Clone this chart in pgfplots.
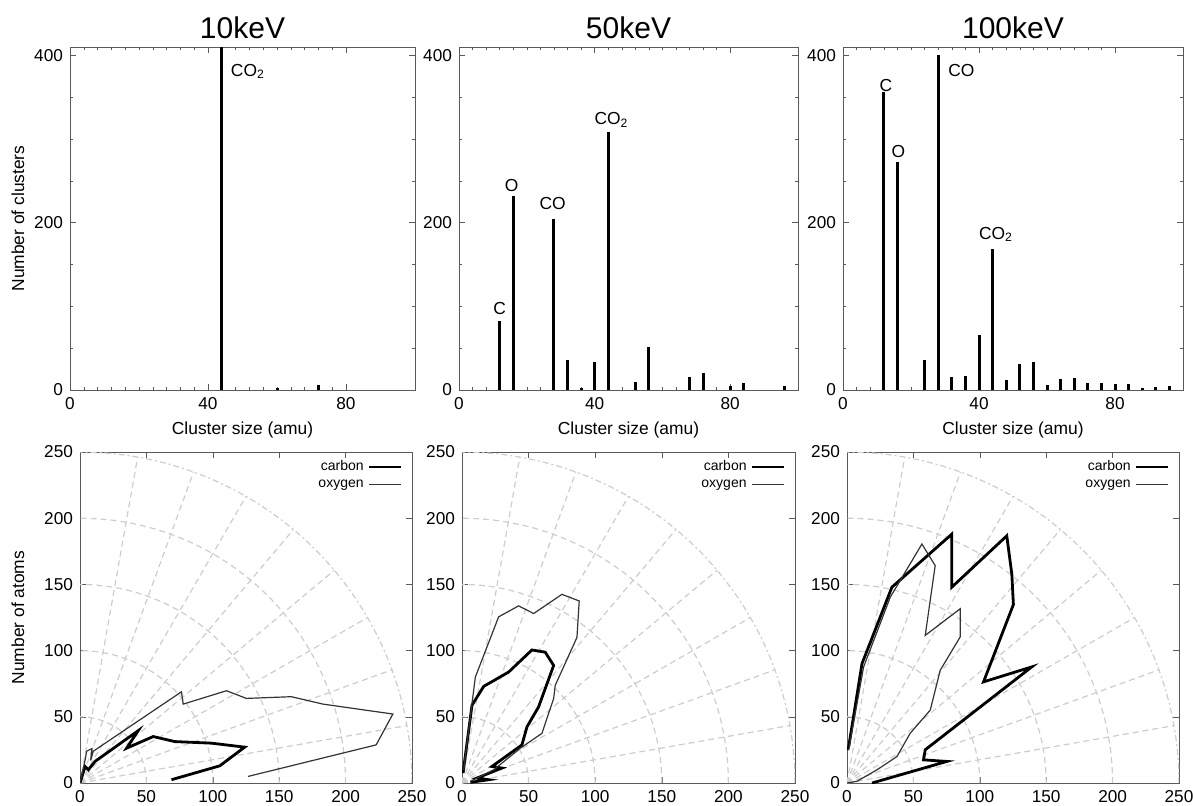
\documentclass[border=0pt]{standalone}
\usepackage{fontspec}
\setmainfont{Liberation Sans}
\usepackage{pgfplots}
\pgfplotsset{compat=1.18}

\definecolor{gridc}{RGB}{205,205,205}
\definecolor{boxc}{RGB}{90,90,90}

\tikzset{lbl/.style={font=\fontsize{8.7}{10}\selectfont}}

\pgfplotsset{
  base/.style={
    scale only axis,
    axis line style={boxc},
    tick style={boxc},
    tick align=inside,
    major tick length=3pt,
    minor tick length=1.5pt,
    tick label style={font=\fontsize{8.6}{10}\selectfont},
    /pgf/number format/assume math mode=true,
    label style={font=\fontsize{8.7}{10}\selectfont},
  },
  clusters/.style={
    base,
    height=171.5pt,
    xmin=0, xmax=100, ymin=0, ymax=410,
    xtick={0,40,80}, ytick={0,200,400},
    minor x tick num=9, minor y tick num=3,
    title style={font=\fontsize{15}{17}\selectfont, at={(0.5,1)}, anchor=center, yshift=3.5pt},
    xlabel={Cluster size (amu)},
    xlabel style={at={(0.5,0)}, anchor=center, yshift=-20pt},
  },
  bar/.style={ycomb, no marks, black, line width=1.5pt},
  polar/.style={
    base,
    height=165.5pt,
    xmin=0, xmax=250, ymin=0, ymax=250,
    xtick={0,50,...,250}, ytick={0,50,...,250},
    legend style={draw=none, fill=none, at={(0.99,1.0)}, anchor=north east,
      font=\fontsize{7}{8}\selectfont, row sep=-1pt},
    legend plot pos=right,
    legend cell align=right,
    legend image code/.code={\draw[##1] (0cm,0cm) -- (0.56cm,0cm);},
  },
  carbon/.style={black, line width=1.4pt, no marks},
  oxygen/.style={black!80, line width=0.6pt, no marks},
}

% polar grid drawn inside each lower axis
\newcommand{\polargrid}{%
  \pgfplotsinvokeforeach{50,100,150,200}{%
    \draw[gridc, line width=0.6pt, dash pattern=on 3pt off 2pt]
      plot[domain=0:90, samples=40] ({##1*cos(\x)},{##1*sin(\x)});
  }
  \draw[gridc, line width=0.6pt, dash pattern=on 3pt off 1.5pt on 1pt off 1.5pt]
    plot[domain=0:90, samples=60] ({250*cos(\x)},{250*sin(\x)});
  \pgfplotsinvokeforeach{10,20,30,40,50,60,70,80}{%
    \draw[gridc, line width=0.6pt, dash pattern=on 3pt off 2pt]
      (axis cs:0,0) -- (axis cs:{250*cos(##1)},{250*sin(##1)});
  }
}

\begin{document}
\begin{tikzpicture}
\path[use as bounding box] (0,0) rectangle (596.5pt,-402.5pt);

% ---------- top row: cluster size spectra ----------
\begin{axis}[clusters, at={(35pt,-195pt)}, anchor=south west, width=172.5pt,
  title={10keV}, ylabel={Number of clusters},
  ylabel style={at={(axis description cs:-0.151,0.5)}, anchor=center}]
  \addplot[bar] coordinates {(44,1000) (60,2) (72,6)};
  \node[lbl, anchor=west] at (axis cs:44.6,381) {CO\textsubscript{2}};
\end{axis}

\begin{axis}[clusters, at={(229.5pt,-195pt)}, anchor=south west, width=169.5pt,
  title={50keV}]
  \addplot[bar] coordinates {
    (12,83) (16,232) (28,205) (32,36) (36,3) (40,34) (44,309)
    (52,10) (56,51) (68,15) (72,20) (80,5) (84,8) (96,5)};
  \node[lbl] at (axis cs:12,97) {C};
  \node[lbl] at (axis cs:15.5,244) {O};
  \node[lbl] at (axis cs:27.6,223) {CO};
  \node[lbl] at (axis cs:45,323) {CO\textsubscript{2}};
\end{axis}

\begin{axis}[clusters, at={(421.5pt,-195pt)}, anchor=south west, width=170pt,
  title={100keV}]
  \addplot[bar] coordinates {
    (12,356) (16,272) (24,36) (28,400) (32,15) (36,17) (40,66) (44,169)
    (48,12) (52,31) (56,33) (60,6) (64,13) (68,14) (72,8) (76,8)
    (80,7) (84,7) (88,3) (92,4) (96,5)};
  \node[lbl] at (axis cs:12.6,364) {C};
  \node[lbl] at (axis cs:16.3,285) {O};
  \node[lbl, anchor=west] at (axis cs:28.9,382) {CO};
  \node[lbl] at (axis cs:45,186) {CO\textsubscript{2}};
\end{axis}

% ---------- bottom row: angular distributions ----------
\begin{axis}[polar, at={(40pt,-391.5pt)}, anchor=south west, width=166pt,
  ylabel={Number of atoms},
  ylabel style={at={(axis description cs:-0.187,0.5)}, anchor=center}]
  \polargrid
  \addplot[carbon] coordinates {
    (0,0) (3.8,12.5) (6.3,10) (11.3,16.3) (43.9,39.6) (35.1,26.3)
    (55.1,35.1) (71.4,31.3) (99,30.1) (124,27.1) (105.3,13) (68.9,2.5)};
  \addlegendentry{carbon}
  \addplot[oxygen] coordinates {
    (0,0) (4,18) (5,24) (9,26) (8,17) (10,24) (76.4,68.9) (77.7,59.6)
    (110.3,69.7) (125.3,63.9) (159.1,65.2) (183,59.6) (235.6,52.1)
    (223,28.8) (126.6,5)};
  \addlegendentry{oxygen}
\end{axis}

\begin{axis}[polar, at={(231pt,-391.5pt)}, anchor=south west, width=166.5pt]
  \polargrid
  \addplot[carbon] coordinates {
    (0.8,7.5) (7.5,58.8) (16.3,73) (35,83.8) (52.5,100.5) (62.5,98.8)
    (68.8,88.8) (57.5,57.5) (48.8,42.5) (45,28.8) (22.5,12.5) (30,11.3)
    (11.3,3.8) (20,2.5) (6.3,0.5)};
  \addlegendentry{carbon}
  \addplot[oxygen] coordinates {
    (1.25,10) (10,80) (27.5,125.5) (42.5,133.8) (53.8,128) (75,142.5)
    (88,137.5) (86.3,110) (70,73.8) (68.8,63.8) (60,37.5) (43.8,26.3)
    (23.8,10) (6.3,1.3)};
  \addlegendentry{oxygen}
\end{axis}

\begin{axis}[polar, at={(423.5pt,-391.5pt)}, anchor=south west, width=166pt]
  \polargrid
  \addplot[carbon] coordinates {
    (0,25) (1.3,27.6) (11.3,90.2) (33.8,147.9) (78.9,188) (78.9,147.9)
    (120.3,186.7) (124.1,157.9) (125.3,134.8) (102.8,76.4) (139.1,87.7)
    (58.9,25.1) (57.6,17.5) (75.2,16.3) (18.8,0)};
  \addlegendentry{carbon}
  \addplot[oxygen] coordinates {
    (1.3,25) (12.5,87.7) (32.6,140.4) (56.4,180.5) (66.4,164.2)
    (58.9,111.5) (85.2,131.6) (85.2,110.3) (70.2,85.2) (62.7,55.1)
    (47.6,37.6) (37.6,20) (22.6,10) (7.5,1.3) (0,0)};
  \addlegendentry{oxygen}
\end{axis}
\end{tikzpicture}
\end{document}
